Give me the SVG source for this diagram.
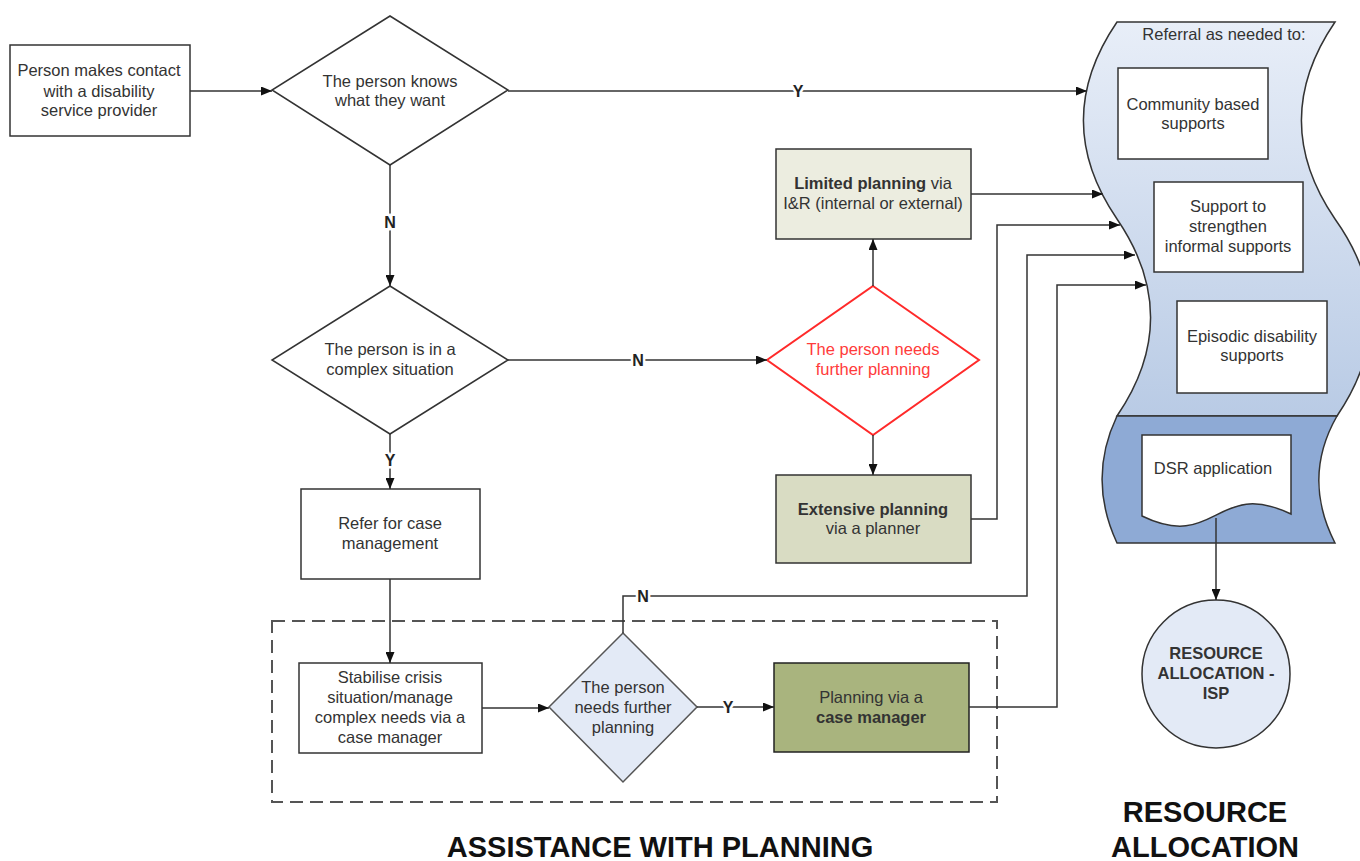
<svg xmlns="http://www.w3.org/2000/svg" width="1360" height="861" viewBox="0 0 1360 861">
<defs>
<linearGradient id="lg" x1="0" y1="0" x2="0" y2="1">
<stop offset="0" stop-color="#e8eef8"/>
<stop offset="1" stop-color="#b9cbe5"/>
</linearGradient>
<marker id="ar" markerUnits="userSpaceOnUse" markerWidth="11" markerHeight="9" refX="11" refY="4.5" orient="auto">
<path d="M0,0 L11,4.5 L0,9 z" fill="#111"/>
</marker>
</defs>
<style>
text{font-family:"Liberation Sans",Arial,sans-serif;font-size:16.5px;fill:#333;text-anchor:middle}
.b{font-weight:bold}
.box{fill:#fff;stroke:#333;stroke-width:1.5}
.con{fill:none;stroke:#333;stroke-width:1.5}
.arr{marker-end:url(#ar)}
.lbl{font-weight:bold;font-size:16px;fill:#222;stroke:#fff;stroke-width:5px;paint-order:stroke}
.title{font-weight:bold;font-size:29px;fill:#111}
</style>
<rect x="0" y="0" width="1360" height="861" fill="#fff"/>

<g id="planning-area">
<rect x="272" y="621" width="725" height="181" fill="none" stroke="#555" stroke-width="2" stroke-dasharray="13,7"/>
</g>

<g id="referral">
<path d="M1117,22 C1072,88 1072,153 1117,219 C1162,285 1162,350 1117,416 L1337,416 C1382,350 1382,285 1335,219 C1290,153 1290,88 1335,22 Z" fill="url(#lg)" stroke="#333" stroke-width="1.5"/>
<path d="M1117,416 C1097,458 1097,500 1117,543 L1335,543 C1313,500 1313,458 1337,416 Z" fill="#8eaad5" stroke="#333" stroke-width="1.5"/>
<text x="1224" y="40">Referral as needed to:</text>
</g>

<g id="community">
<rect class="box" x="1118" y="68" width="150" height="91"/>
<text x="1193" y="110">Community based</text>
<text x="1193" y="129">supports</text>
</g>
<g id="support">
<rect class="box" x="1154" y="182" width="149" height="90"/>
<text x="1228" y="212">Support to</text>
<text x="1228" y="232">strengthen</text>
<text x="1228" y="252">informal supports</text>
</g>
<g id="episodic">
<rect class="box" x="1177" y="301" width="150" height="92"/>
<text x="1252" y="342">Episodic disability</text>
<text x="1252" y="361">supports</text>
</g>
<g id="dsr">
<path d="M1142,435 L1291,435 L1291,514 C1216,478 1216,552 1142,516 Z" fill="#fff" stroke="#333" stroke-width="1.5"/>
<text x="1213" y="474">DSR application</text>
</g>
<g id="resource-isp">
<circle cx="1216" cy="674" r="74" fill="#e3eaf6" stroke="#333" stroke-width="1.5"/>
<text class="b" x="1216" y="659">RESOURCE</text>
<text class="b" x="1216" y="679">ALLOCATION -</text>
<text class="b" x="1216" y="699">ISP</text>
</g>

<g id="contact">
<rect class="box" x="10" y="45" width="180" height="91"/>
<text x="99" y="76">Person makes contact</text>
<text x="99" y="97">with a disability</text>
<text x="99" y="116">service provider</text>
</g>
<g id="knows">
<path d="M390,16 L508,90 L390,165 L272,90 Z" class="box"/>
<text x="390" y="87">The person knows</text>
<text x="390" y="106">what they want</text>
</g>
<g id="complex">
<path d="M390,286 L508,360 L390,434 L272,360 Z" class="box"/>
<text x="390" y="355">The person is in a</text>
<text x="390" y="375">complex situation</text>
</g>
<g id="refer">
<rect class="box" x="301" y="489" width="179" height="90"/>
<text x="390" y="529">Refer for case</text>
<text x="390" y="549">management</text>
</g>
<g id="stabilise">
<rect class="box" x="299" y="663" width="183" height="90"/>
<text x="390" y="683">Stabilise crisis</text>
<text x="390" y="703">situation/manage</text>
<text x="390" y="723">complex needs via a</text>
<text x="390" y="743">case manager</text>
</g>
<g id="further-cm">
<path d="M623,633 L697,707 L623,782 L549,707 Z" fill="#e3eaf6" stroke="#555" stroke-width="1.5"/>
<text x="623" y="693">The person</text>
<text x="623" y="713">needs further</text>
<text x="623" y="733">planning</text>
</g>
<g id="planning-cm">
<rect x="774" y="663" width="195" height="89" fill="#a9b47e" stroke="#222" stroke-width="1.5"/>
<text x="871" y="703">Planning via a</text>
<text class="b" x="871" y="723">case manager</text>
</g>
<g id="further">
<path d="M873,286 L979,360 L873,435 L767,360 Z" fill="#fff" stroke="#ff2a2a" stroke-width="2"/>
<text x="873" y="355" style="fill:#ff3b3b">The person needs</text>
<text x="873" y="375" style="fill:#ff3b3b">further planning</text>
</g>
<g id="limited">
<rect x="776" y="149" width="195" height="90" fill="#ecede0" stroke="#333" stroke-width="1.5"/>
<text x="873" y="189"><tspan class="b">Limited planning</tspan> via</text>
<text x="873" y="209">I&amp;R (internal or external)</text>
</g>
<g id="extensive">
<rect x="776" y="475" width="195" height="88" fill="#d9dcc3" stroke="#333" stroke-width="1.5"/>
<text class="b" x="873" y="515">Extensive planning</text>
<text x="873" y="534">via a planner</text>
</g>

<g id="connectors">
<path class="con arr" d="M190,91 H272"/>
<path class="con arr" d="M508,91 H1087"/>
<path class="con arr" d="M390,165 V286"/>
<path class="con arr" d="M508,360 H767"/>
<path class="con arr" d="M390,434 V489"/>
<path class="con arr" d="M390,579 V663"/>
<path class="con arr" d="M482,708 H549"/>
<path class="con arr" d="M697,707 H774"/>
<path class="con arr" d="M873,286 V239"/>
<path class="con arr" d="M873,435 V475"/>
<path class="con arr" d="M971,194 H1103"/>
<path class="con arr" d="M971,519 H997 V225 H1120"/>
<path class="con arr" d="M623,633 V596 H1027 V255 H1135"/>
<path class="con arr" d="M969,707 H1057 V285 H1146"/>
<path class="con arr" d="M1216,518 V600"/>
<text class="lbl" x="798" y="97">Y</text>
<text class="lbl" x="390" y="228">N</text>
<text class="lbl" x="638" y="366">N</text>
<text class="lbl" x="390" y="466">Y</text>
<text class="lbl" x="728" y="713">Y</text>
<text class="lbl" x="643" y="602">N</text>
</g>

<g id="titles">
<text class="title" x="660" y="857">ASSISTANCE WITH PLANNING</text>
<text class="title" x="1205" y="822">RESOURCE</text>
<text class="title" x="1205" y="857">ALLOCATION</text>
</g>
</svg>
